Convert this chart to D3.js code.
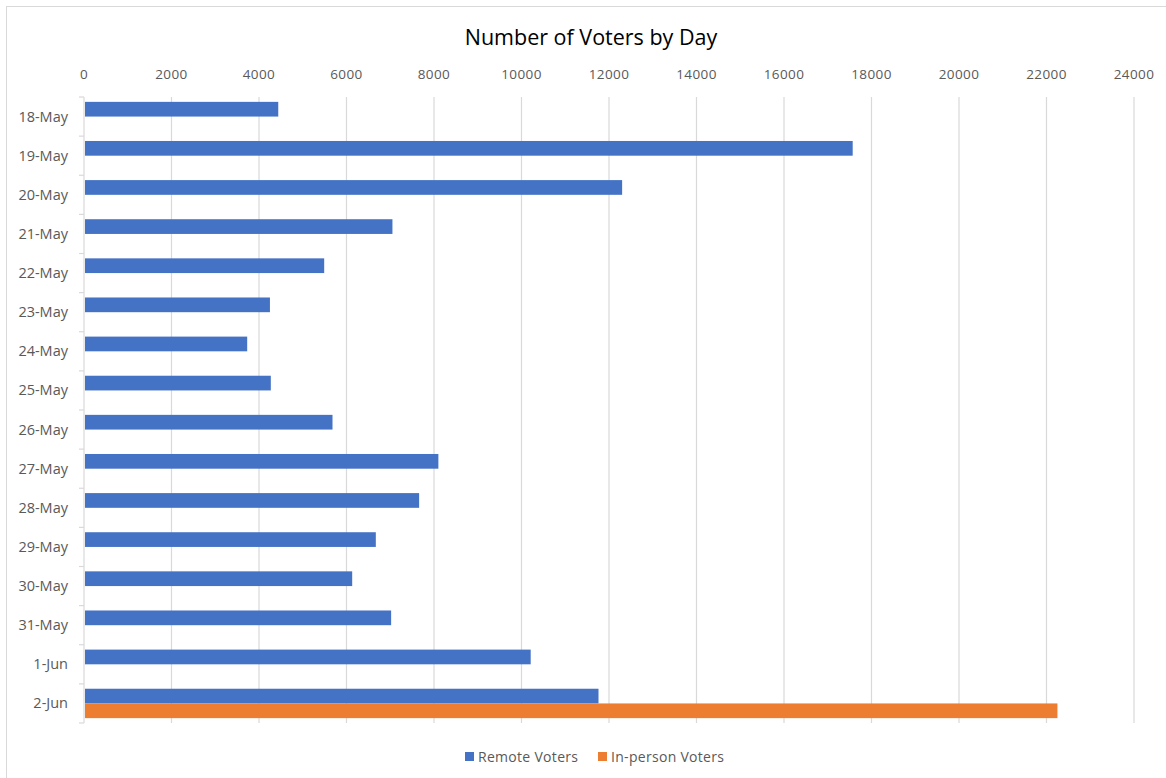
<!DOCTYPE html>
<html>
<head>
<meta charset="utf-8">
<script src="https://cdn.jsdelivr.net/npm/d3@7"></script>
<style>
  body { margin: 0; background: #fff; }
  svg { display: block; font-family: "Open Sans", "Noto Sans", sans-serif; }
</style>
</head>
<body>
<div id="chart"></div>
<script>
    const days = ["18-May","19-May","20-May","21-May","22-May","23-May","24-May","25-May",
                  "26-May","27-May","28-May","29-May","30-May","31-May","1-Jun","2-Jun"]
    const remoteVoters = [4440,17570,12300,7050,5490,4250,3730,4270,
                          5680,8100,7660,6670,6130,7020,10210,11760]
    const inPersonVoters = [0,0,0,0,0,0,0,0,0,0,0,0,0,0,0,22250]
    const seriesNames = ["Remote Voters","In-person Voters"]
    const seriesColors = ["#4472C4","#ED7D31"]
    const xTicks = d3.range(0, 24001, 2000)

    const width = 1166
    const height = 778
    const margin = {top: 97, left: 84, right: 32, bottom: 55}

    const svg = d3.select("#chart")
      .append("svg")
      .attr("width", width)
      .attr("height", height)

    // chart frame (only top and left edges show in the picture)
    svg.append("rect")
      .attr("x", 6.5).attr("y", 6.5)
      .attr("width", width + 20).attr("height", height + 20)
      .attr("fill", "none")
      .attr("stroke", "#d9d9d9")

    const x = d3.scaleLinear()
      .domain([0, 24000])
      .range([margin.left, margin.left + 12 * 87.5])

    const y = d3.scaleBand()
      .domain(days)
      .range([margin.top, height - margin.bottom])

    const y1 = d3.scaleBand()
      .domain(seriesNames)
      .range([0, y.bandwidth()])
      .paddingInner(0)
      .paddingOuter(0.33)

    // gridlines
    svg.append("g")
      .selectAll("line")
      .data(xTicks.slice(1))
      .join("line")
      .attr("x1", d => x(d)).attr("x2", d => x(d))
      .attr("y1", margin.top).attr("y2", height - margin.bottom)
      .attr("stroke", "#d9d9d9")
      .attr("stroke-width", 1.2)

    // top value axis labels
    svg.append("g")
      .selectAll("text")
      .data(xTicks)
      .join("text")
      .attr("x", d => x(d))
      .attr("y", 79)
      .attr("text-anchor", "middle")
      .attr("font-size", 13.5)
      .attr("letter-spacing", 0.4)
      .attr("fill", "#595959")
      .text(d => d)

    // category axis
    const yAxis = svg.append("g")
    yAxis.append("line")
      .attr("x1", margin.left).attr("x2", margin.left)
      .attr("y1", margin.top).attr("y2", height - margin.bottom)
      .attr("stroke", "#d9d9d9")
      .attr("stroke-width", 1.2)
    yAxis.selectAll(".tick")
      .data(days.concat(["end"]))
      .join("line")
      .attr("x1", margin.left - 5).attr("x2", margin.left)
      .attr("y1", (d, i) => margin.top + i * y.bandwidth())
      .attr("y2", (d, i) => margin.top + i * y.bandwidth())
      .attr("stroke", "#d9d9d9")
      .attr("stroke-width", 1.2)
    yAxis.selectAll("text")
      .data(days)
      .join("text")
      .attr("x", 68)
      .attr("y", d => y(d) + y.bandwidth() / 2 + 5)
      .attr("text-anchor", "end")
      .attr("font-size", 14.5)
      .attr("fill", "#595959")
      .text(d => d)

    // bars
    const rows = days.map((d, i) => ({day: d, values: [remoteVoters[i], inPersonVoters[i]]}))
    svg.append("g")
      .selectAll("g")
      .data(rows)
      .join("g")
      .attr("transform", d => "translate(0," + y(d.day) + ")")
      .selectAll("rect")
      .data(d => d.values.map((v, j) => ({name: seriesNames[j], value: v, color: seriesColors[j]})))
      .join("rect")
      .filter(d => d.value > 0)
      .attr("x", x(0) + 1)
      .attr("y", d => y1(d.name))
      .attr("width", d => x(d.value) - x(0) - 1)
      .attr("height", y1.bandwidth())
      .attr("fill", d => d.color)

    // title
    svg.append("text")
      .attr("x", 591)
      .attr("y", 45)
      .attr("text-anchor", "middle")
      .attr("font-size", 21.5)
      .attr("fill", "#000")
      .text("Number of Voters by Day")

    // legend
    const legendX = [465, 598]
    const legend = svg.append("g")
      .selectAll("g")
      .data(seriesNames)
      .join("g")
      .attr("transform", (d, i) => "translate(" + legendX[i] + ",752)")
    legend.append("rect")
      .attr("width", 9).attr("height", 9)
      .attr("fill", (d, i) => seriesColors[i])
    legend.append("text")
      .attr("x", 13).attr("y", 10)
      .attr("font-size", 14)
      .attr("letter-spacing", 0.3)
      .attr("fill", "#595959")
      .text(d => d)
</script>
</body>
</html>
